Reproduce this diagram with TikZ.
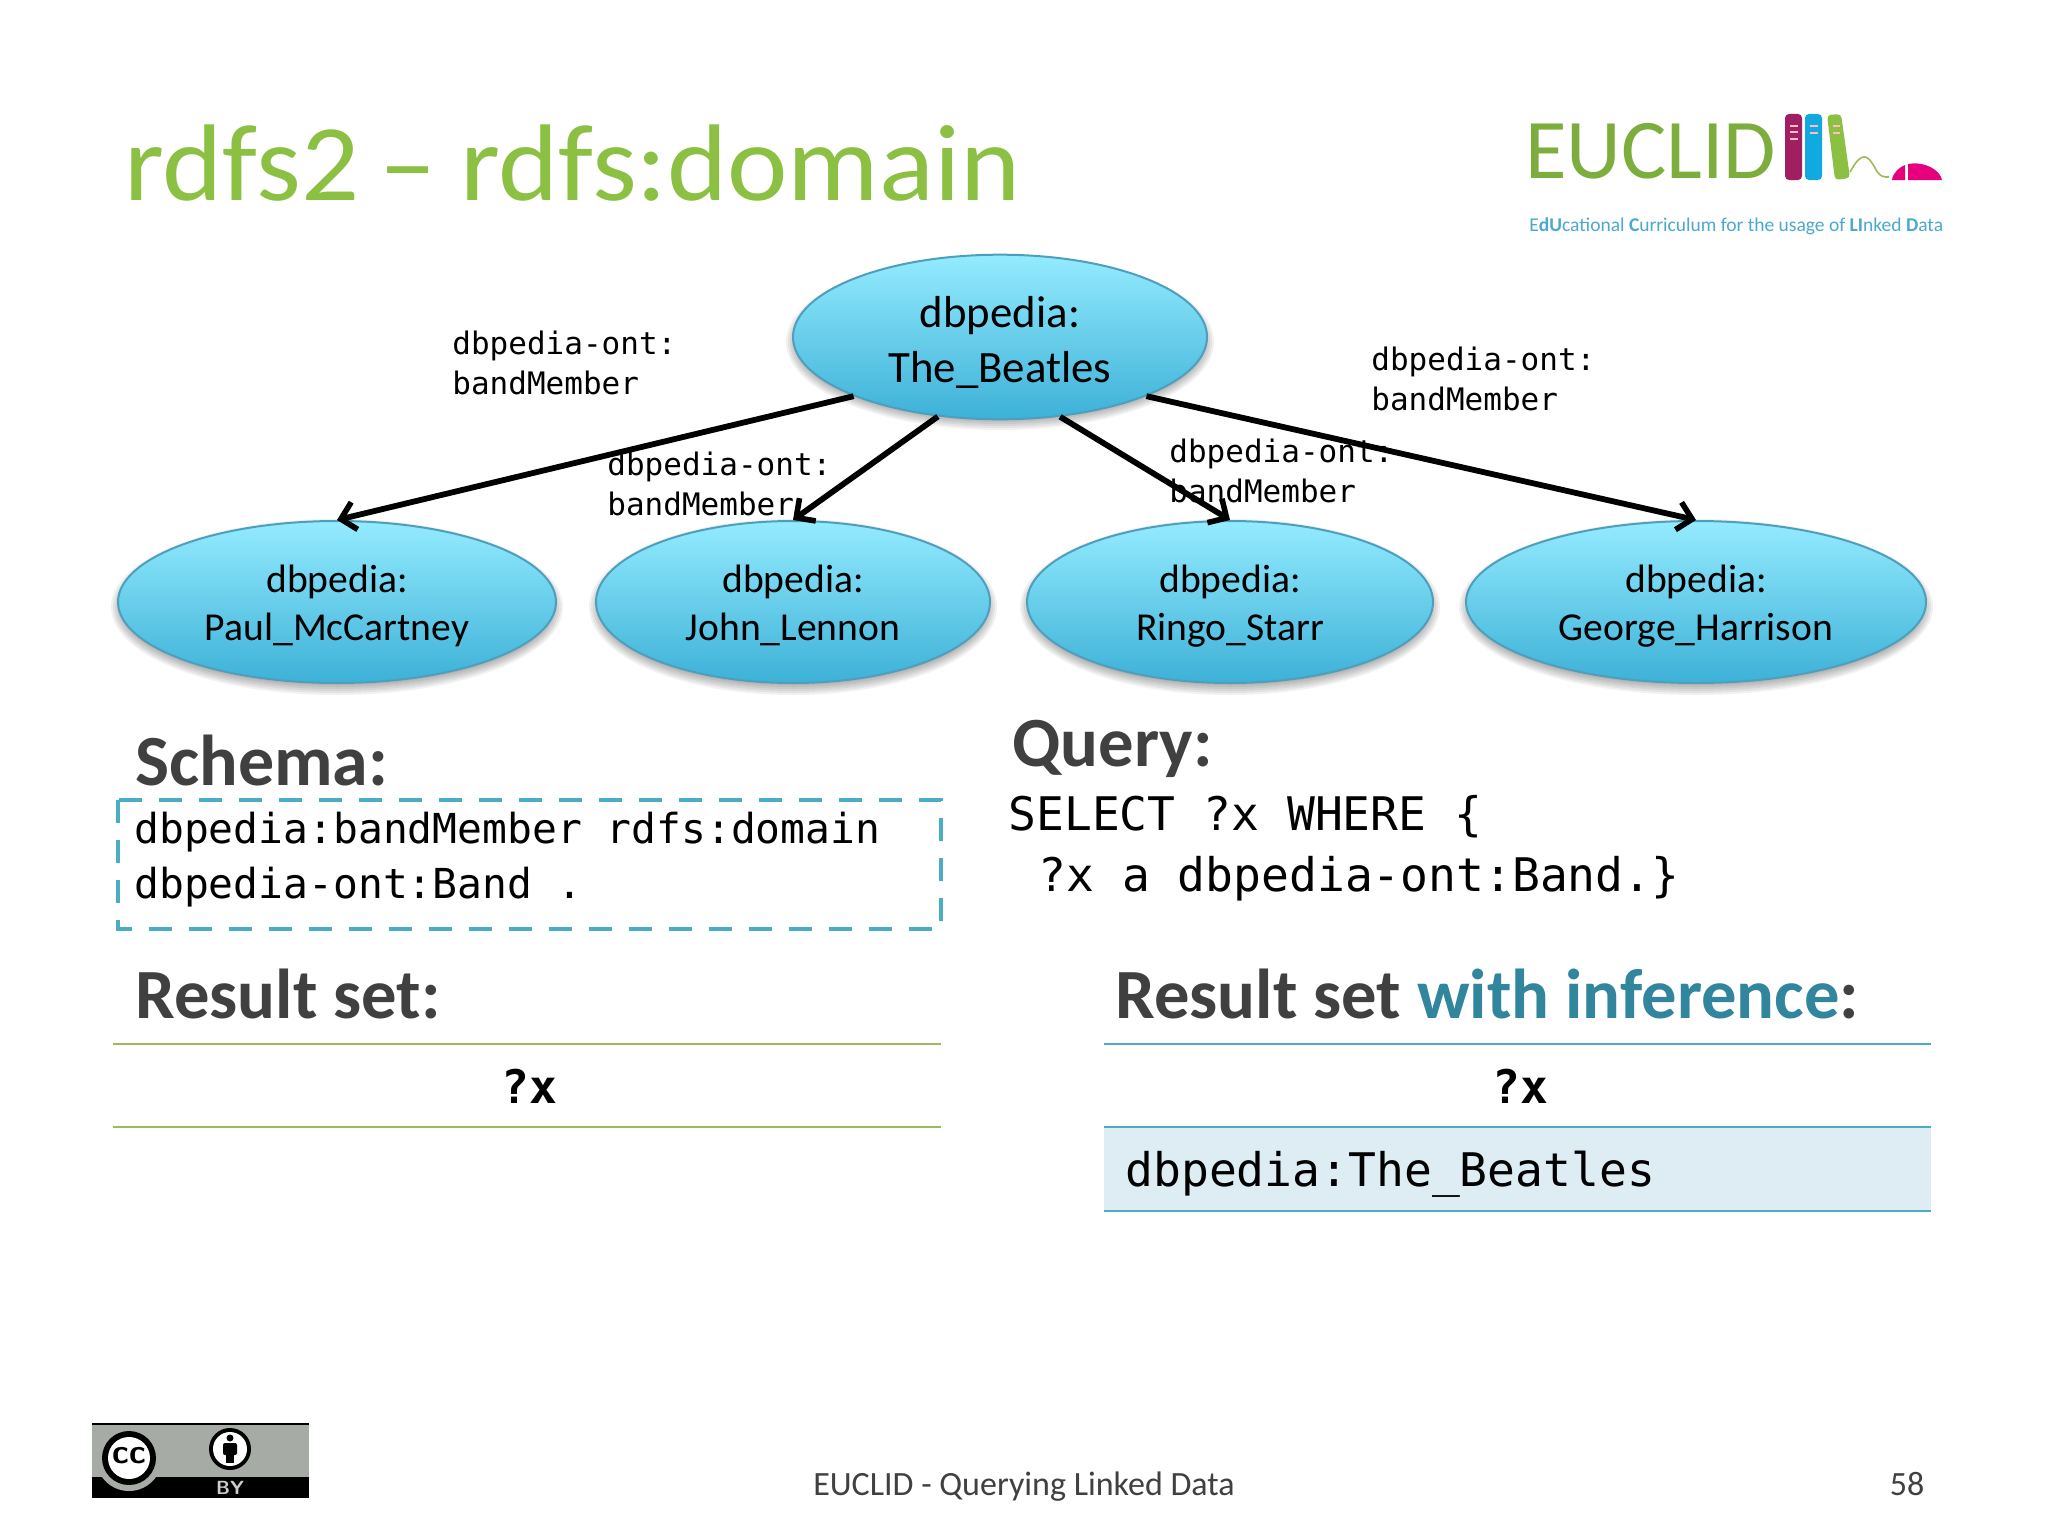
\documentclass[tikz,border=0pt]{standalone}
\usepackage{fontspec}
\setmainfont{Carlito}
\setmonofont{DejaVu Sans Mono}
\usetikzlibrary{shapes.geometric,arrows.meta}
\definecolor{titlegreen}{HTML}{8BC043}
\definecolor{headgrey}{HTML}{404040}
\definecolor{teal}{HTML}{31859C}
\definecolor{dashblue}{HTML}{4BACC6}
\definecolor{olive}{HTML}{9BBB59}
\definecolor{rowfill}{HTML}{DEECF4}
\definecolor{pinkm}{HTML}{E6007E}
\definecolor{bookp}{HTML}{A01F62}
\definecolor{bookb}{HTML}{12A8E0}
\definecolor{tagblue}{HTML}{4BA9CE}
\definecolor{ccgrey}{HTML}{A6ABA6}
\definecolor{ballT}{HTML}{94EBFF}
\definecolor{ballB}{HTML}{3DB1D7}
\definecolor{ballE}{HTML}{4E9FBC}
\newcommand{\fs}[2]{\fontsize{#1pt}{#2pt}\selectfont}
\newcommand{\softshadow}[3]{%
  \foreach \gr in {-3,-1,1,3,5,7}{%
    \fill[black,opacity=.055] (#1,#2+5) ellipse[x radius=#3+\gr,y radius=162/2+\gr];}}
\newcommand{\topS}{\rule{0pt}{20pt}}
\newcommand{\botS}{\rule[-6pt]{0pt}{6pt}}
\newcommand{\topB}{\rule{0pt}{24.2pt}}
\newcommand{\botB}{\rule[-6.5pt]{0pt}{6.5pt}}
\tikzset{
  ent/.style={ellipse,inner sep=0pt,align=center,text=black,
    top color=ballT,bottom color=ballB,draw=ballE,line width=1pt},
  ebig/.style={ent,minimum width=207pt,minimum height=81pt,font=\fs{22.4}{27.5}},
  esm/.style={ent,minimum height=81pt,font=\fs{19.8}{24}},
  rel/.style={line width=2.9pt,draw=black,-{Straight Barb[length=7pt,width=14pt,line width=2.8pt]}},
  lab/.style={anchor=west,inner sep=0pt,align=left,font=\ttfamily\fs{15.5}{20.3},text=black},
  mono/.style={anchor=base west,inner sep=0pt,text=black},
  head/.style={anchor=base west,inner sep=0pt,font=\bfseries\fs{35.3}{40},text=headgrey},
  rule/.style={line width=1.3pt},
  foot/.style={anchor=base,inner sep=0pt,font=\fs{17}{20},text=headgrey},
}
\begin{document}
\begin{tikzpicture}[x=0.5pt,y=-0.5pt]
\useasboundingbox (0,0) rectangle (2048,1536);
\fill[white] (0,0) rectangle (2048,1536);
% title
\node[anchor=base west,inner sep=0pt,xscale=1.05,transform shape,font=\fs{54.5}{64},text=titlegreen] (title) at (124,200) {rdfs2\hspace{10pt}–\hspace{11pt}rdfs:domain};
% logo
\node[anchor=base west,inner sep=0pt,font=\fs{42.5}{48},text=titlegreen!90!black] (logotxt) at (1525,178) {EUCLID};
\fill[bookp,rounded corners=2pt] (1785,114) rectangle (1802,180);
\fill[bookb,rounded corners=2pt] (1805,114) rectangle (1822,180);
\fill[titlegreen,rounded corners=2pt] (1827,115) -- (1841,114) -- (1850,178) -- (1835,180) -- cycle;
\foreach \yy in {125,131,138}{\fill[pink] (1790,\yy) rectangle (1798,\yy+2);}
\foreach \yy in {125,132}{\fill[pink] (1810,\yy) rectangle (1818,\yy+2);}
\foreach \yy in {125,132}{\fill[pink] (1833,\yy) rectangle (1840,\yy+2);}
\draw[olive,line width=0.8pt] (1850,172) .. controls (1862,150) and (1868,155) .. (1875,168) .. controls (1880,178) and (1885,177) .. (1889,177);
\fill[pinkm] (1892,180) .. controls (1893,172) and (1900,167) .. (1905,165) -- (1905,180) -- cycle;
\fill[pinkm] (1908,164) .. controls (1925,161) and (1940,170) .. (1942,180) -- (1908,180) -- cycle;
\node[anchor=base west,inner sep=0pt,font=\fs{9.75}{12},text=tagblue] (tag) at (1529,231) {E\textbf{dU}cational \textbf{C}urriculum for the usage of \textbf{LI}nked \textbf{D}ata};
% soft shadows
\softshadow{1000}{337}{207}
\softshadow{337}{602}{219}
\softshadow{793}{602}{197}
\softshadow{1230}{602}{203}
\softshadow{1696}{602}{230}
% nodes
\node[ebig] (beatles) at (1000,337) {\topB dbpedia:\\The\_Beatles\botB};
\node[esm,minimum width=219pt] (paul) at (337,602) {\topS dbpedia:\\Paul\_McCartney\botS};
\node[esm,minimum width=197pt] (john) at (793,602) {\topS dbpedia:\\John\_Lennon\botS};
\node[esm,minimum width=203pt] (ringo) at (1230,602) {\topS dbpedia:\\Ringo\_Starr\botS};
\node[esm,minimum width=230pt] (george) at (1696,602) {\topS dbpedia:\\George\_Harrison\botS};
% connectors
\draw[rel] (beatles.202) -- (paul.north);
\draw[rel] (beatles.232.7) -- (john.north);
\draw[rel] (beatles.307.3) -- (ringo.north);
\draw[rel] (beatles.338.6) -- (george.north);
% labels
\node[lab] (l1) at (452,363) {dbpedia-ont:\\bandMember};
\node[lab] (l2) at (1371,379) {dbpedia-ont:\\bandMember};
\node[lab] (l3) at (607,484) {dbpedia-ont:\\bandMember};
\node[lab] (l4) at (1169,471) {dbpedia-ont:\\bandMember};
% schema
\node[head,font=\bfseries\fs{36}{40}] (schema) at (135,785) {Schema:};
\draw[dashblue,line width=2.4pt,dash pattern=on 11.5pt off 8.5pt] (118,800) rectangle (941,929);
\node[mono,font=\ttfamily\fs{20.65}{24}] (s1) at (134,843) {dbpedia:bandMember rdfs:domain};
\node[mono,font=\ttfamily\fs{20.65}{24}] (s2) at (134,898) {dbpedia-ont:Band .};
% query
\node[head] (query) at (1012,766) {Query:};
\node[mono,font=\ttfamily\fs{23.15}{28}] (q1) at (1008,830) {SELECT ?x WHERE \{};
\node[mono,font=\ttfamily\fs{23.15}{28}] (q2) at (1038,891) {?x a dbpedia-ont:Band.\}};
% result left
\node[head] (res1) at (135,1018) {Result set:};
\draw[olive,rule] (113,1044) -- (941,1044);
\draw[olive,rule] (113,1127) -- (941,1127);
\node[anchor=base,inner sep=0pt,font=\ttfamily\bfseries\fs{23.15}{28},text=black] (x1) at (529,1103) {?x};
% result right
\node[head] (res2) at (1115,1018) {Result set \textcolor{teal}{with inference}:};
\fill[rowfill] (1104,1127) rectangle (1931,1211);
\draw[dashblue,rule] (1104,1044) -- (1931,1044);
\draw[dashblue,rule] (1104,1127) -- (1931,1127);
\draw[dashblue,rule] (1104,1211) -- (1931,1211);
\node[anchor=base,inner sep=0pt,font=\ttfamily\bfseries\fs{23.15}{28},text=black] (x2) at (1520,1103) {?x};
\node[mono,font=\ttfamily\fs{23.15}{28}] (row) at (1125,1186) {dbpedia:The\_Beatles};
% cc badge
\fill[ccgrey] (92,1423) rectangle (309,1498);
\fill[black] (92,1477) rectangle (309,1498);
\draw[black,line width=1pt] (92,1424) -- (309,1424);
\fill[ccgrey] (129,1458) circle[radius=33];
\fill[black] (129,1458) circle[radius=27];
\fill[white] (129,1458) circle[radius=21];
\node[inner sep=0pt,font=\sffamily\bfseries\fs{17}{18},text=black] (cc) at (129,1456) {cc};
\fill[black] (230,1449) circle[radius=21];
\fill[white] (230,1449) circle[radius=17];
\fill[black] (230,1438) circle[radius=3.5];
\fill[black,rounded corners=1pt] (223,1443) rectangle (237,1455);
\fill[black] (226,1454) rectangle (234,1463);
\node[inner sep=0pt,font=\sffamily\bfseries\fs{9.5}{10},text=ccgrey!60!white] (by) at (230,1488) {BY};
% footer
\node[foot] (ft) at (1024,1495) {EUCLID - Querying Linked Data};
\node[foot] (pg) at (1907,1495) {58};
\end{tikzpicture}
\end{document}
